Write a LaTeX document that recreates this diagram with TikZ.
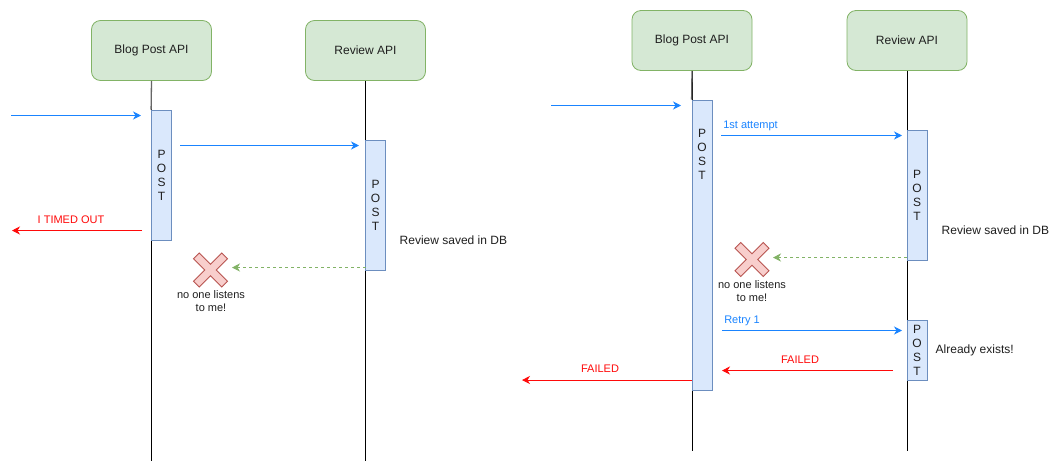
\documentclass[tikz,border=0pt]{standalone}
\usepackage{fontspec}
\setmainfont{Liberation Sans}
\usetikzlibrary{arrows.meta}
\definecolor{boxfill}{HTML}{D5E8D4}
\definecolor{boxline}{HTML}{82B366}
\definecolor{actfill}{HTML}{DAE8FC}
\definecolor{actline}{HTML}{6C8EBF}
\definecolor{msgblue}{HTML}{1A84FF}
\definecolor{msgred}{HTML}{FF0A0A}
\definecolor{xfill}{HTML}{F8CECC}
\definecolor{xline}{HTML}{B85450}
\definecolor{txt}{HTML}{1F1F1F}
\definecolor{okgreen}{HTML}{82B366}
\begin{document}
\begin{tikzpicture}[x=1pt,y=-1pt,
  svc/.style={draw=boxline, fill=boxfill, rounded corners=9pt, minimum width=120pt,
    minimum height=60pt, inner sep=0pt, line width=0.8pt, font=\fontsize{12}{14}\selectfont, text=txt},
  act/.style={draw=actline, fill=actfill, minimum width=20pt, inner sep=0pt, line width=0.8pt,
    font=\fontsize{12}{14}\selectfont, align=center, text=txt},
  stack/.style={inner sep=0pt, font=\fontsize{12}{14}\selectfont, align=center, text=txt},
  life/.style={draw=black, line width=0.9pt},
  lifetop/.style={draw=black!60, line width=1.3pt},
  tip/.style={-{Stealth[length=8pt,width=8pt,inset=2.5pt]}},
  bluemsg/.style={tip, draw=msgblue, line width=0.9pt},
  redmsg/.style={tip, draw=msgred, line width=0.9pt},
  greenmsg/.style={tip, draw=okgreen, line width=0.9pt, dash pattern=on 3pt off 3pt},
  bluelbl/.style={inner sep=0pt, text=msgblue, font=\fontsize{11}{13}\selectfont},
  redlbl/.style={inner sep=0pt, text=msgred, font=\fontsize{11}{13}\selectfont},
  note/.style={inner sep=0pt, text=txt, font=\fontsize{12}{14}\selectfont},
  smallnote/.style={inner sep=0pt, text=txt, font=\fontsize{11}{13}\selectfont, align=center},
  crossmark/.style={draw=xline, fill=xfill, line width=0.8pt, line join=miter},
  crossbox/.style={minimum size=34pt, inner sep=0pt}
]
\fill[white] (0,0) rectangle (1058,472);
\useasboundingbox (0,0) rectangle (1058,472);

% ================= LEFT DIAGRAM =================
\node[svc] (bp1) at (151.5,50.5) {Blog Post API};
\node[svc] (rv1) at (365.5,50.5) {Review API};
\coordinate (bp1end) at (151.5,460.5);
\coordinate (rv1end) at (365.5,460.5);
\draw[life] (bp1.south) -- (bp1end);
\draw[life] (rv1.south) -- (rv1end);

\node[act, minimum height=130pt] (act1) at (161.5,175) {P\\O\\S\\T};
\node[act, minimum height=130pt] (act2) at (375.5,205) {P\\O\\S\\T};
\draw[lifetop] (bp1.south) -- (act1.north west);

\coordinate (in1s) at (11,115.5);
\coordinate (in1e) at (141,115.5);
\draw[bluemsg] (in1s) -- (in1e);

\coordinate (m1s) at (180,145.5);
\coordinate (m1e) at (359,145.5);
\draw[bluemsg] (m1s) -- (m1e);

\coordinate (to1s) at (142,230.5);
\coordinate (to1e) at (12,230.5);
\draw[redmsg] (to1s) -- (to1e);
\node[redlbl] (tolbl) at (71,220) {I TIMED OUT};

\node[crossbox] (x1) at (210.5,270) {};
\draw[crossmark, shift={(x1.center)}]
  (-11.3,-17) -- (0,-5.7) -- (11.3,-17) -- (17,-11.3) -- (5.7,0) -- (17,11.3)
  -- (11.3,17) -- (0,5.7) -- (-11.3,17) -- (-17,11.3) -- (-5.7,0) -- (-17,-11.3) -- cycle;
\coordinate (g1s) at (365.5,267.5);
\coordinate (g1e) at (232,267.5);
\draw[greenmsg] (g1s) -- (g1e);
\node[smallnote] (nl1) at (211,301) {no one listens\\to me!};
\node[note, anchor=west] (sv1) at (399.5,240) {Review saved in DB};

% ================= RIGHT DIAGRAM =================
\node[svc] (bp2) at (692,40.5) {Blog Post API};
\node[svc] (rv2) at (907,40.5) {Review API};
\coordinate (bp2end) at (692,450.5);
\coordinate (rv2end) at (907,450.5);
\draw[life] (bp2.south) -- (bp2end);
\draw[life] (rv2.south) -- (rv2end);

\node[act, minimum height=290pt] (act3) at (702,245) {};
\node[stack] (post3) at (702,154) {P\\O\\S\\T};
\node[act, minimum height=130pt] (act4) at (917,195) {P\\O\\S\\T};
\node[act, minimum height=60pt] (act5) at (917,350) {P\\O\\S\\T};
\draw[lifetop] (bp2.south) -- (act3.north west);

\coordinate (in2s) at (551,105.5);
\coordinate (in2e) at (681,105.5);
\draw[bluemsg] (in2s) -- (in2e);

\coordinate (a1s) at (721,135.5);
\coordinate (a1e) at (902,135.5);
\draw[bluemsg] (a1s) -- (a1e);
\node[bluelbl] (a1lbl) at (750.5,126) {1st attempt};

\node[crossbox] (x2) at (752,259.5) {};
\draw[crossmark, shift={(x2.center)}]
  (-11.3,-17) -- (0,-5.7) -- (11.3,-17) -- (17,-11.3) -- (5.7,0) -- (17,11.3)
  -- (11.3,17) -- (0,5.7) -- (-11.3,17) -- (-17,11.3) -- (-5.7,0) -- (-17,-11.3) -- cycle;
\coordinate (g2s) at (907,257.5);
\coordinate (g2e) at (773,257.5);
\draw[greenmsg] (g2s) -- (g2e);
\node[smallnote] (nl2) at (752,291.5) {no one listens\\to me!};
\node[note, anchor=west] (sv2) at (941.5,230.5) {Review saved in DB};

\coordinate (r1s) at (722,330.5);
\coordinate (r1e) at (902,330.5);
\draw[bluemsg] (r1s) -- (r1e);
\node[bluelbl] (r1lbl) at (742,321) {Retry 1};

\node[note, anchor=west] (ae) at (935.5,350.5) {Already exists!};

\coordinate (f1s) at (893,370.5);
\coordinate (f1e) at (722,370.5);
\draw[redmsg] (f1s) -- (f1e);
\node[redlbl] (f1lbl) at (800,359.5) {FAILED};

\coordinate (f2s) at (692,380);
\coordinate (f2e) at (522,380);
\draw[redmsg] (f2s) -- (f2e);
\node[redlbl] (f2lbl) at (600,368.5) {FAILED};
\end{tikzpicture}
\end{document}
